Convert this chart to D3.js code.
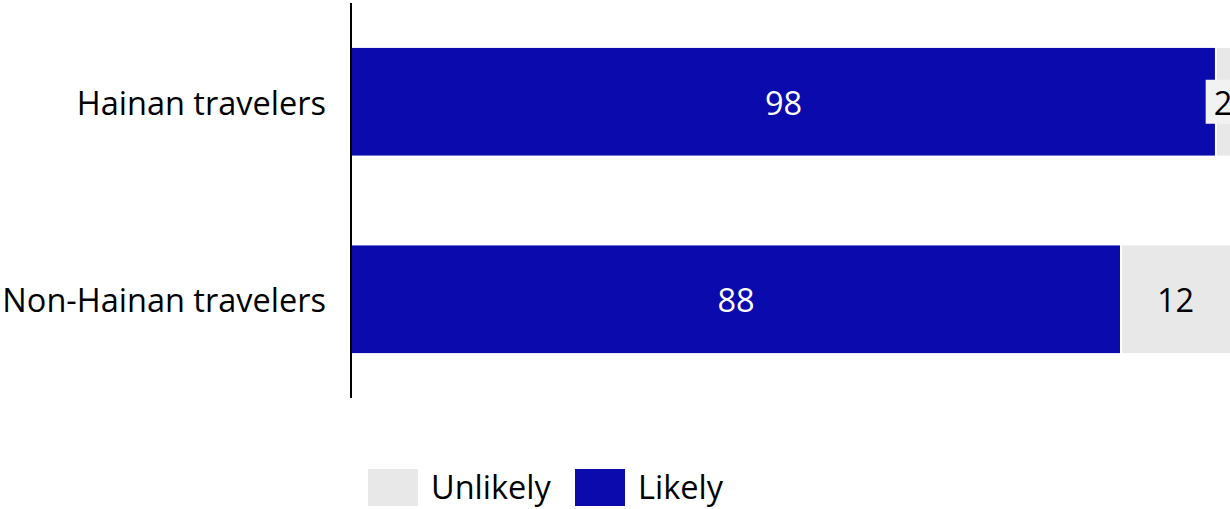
<!DOCTYPE html>
<html><head><meta charset="utf-8">
<script src="https://cdn.jsdelivr.net/npm/d3@7"></script>
<style>body{margin:0;background:#fff}svg{display:block}text{font-family:"Open Sans",sans-serif}</style>
</head><body>
<svg id="c" width="1230" height="509"></svg>
<script>
const categories = ["Hainan travelers", "Non-Hainan travelers"];
const likely = [98.4, 87.6];
const unlikely = [1.6, 12.4];
const seriesNames = ["Unlikely", "Likely"];
const colors = {Likely: "#0A0AAD", Unlikely: "#E8E8E8"};
const FONT = 32.5;

const svg = d3.select("#c");
const x = d3.scaleLinear().domain([0, 100]).range([351, 1230]);
const y = d3.scaleBand().domain(categories).range([3, 398]).paddingInner(0.455).paddingOuter(0.2275);

const rows = categories.map((c, i) => ({cat: c, Likely: likely[i], Unlikely: unlikely[i]}));
const stack = d3.stack().keys(["Likely", "Unlikely"])(rows);

const g = svg.append("g");
stack.forEach(layer => {
  g.selectAll(null).data(layer).enter().append("rect")
    .attr("x", d => x(d[0]) + (layer.key === "Unlikely" ? 1 : 0))
    .attr("y", d => y(d.data.cat))
    .attr("width", d => x(d[1]) - x(d[0]) - 1)
    .attr("height", y.bandwidth())
    .attr("fill", colors[layer.key]);
});
stack.forEach(layer => {
  layer.forEach(d => {
    const v = Math.round(d[1] - d[0]);
    const cx = (x(d[0]) + x(d[1])) / 2;
    const cy = y(d.data.cat) + y.bandwidth() / 2;
    const t = g.append("text").attr("x", cx).attr("y", cy + 13)
      .attr("text-anchor", "middle").attr("font-size", FONT)
      .attr("fill", layer.key === "Likely" ? "#fff" : "#000").text(v);
    if (layer.key === "Unlikely" && (x(d[1]) - x(d[0])) < 40) {
      const bb = t.node().getBBox();
      g.insert("rect", () => t.node()).attr("x", bb.x - 8).attr("y", cy - 22)
        .attr("width", bb.width + 16).attr("height", 44).attr("fill", "#F2F2F2");
    }
  });
});

const ax = svg.append("g").attr("transform", "translate(351,0)")
  .call(d3.axisLeft(y).tickSize(0).tickPadding(25));
ax.select(".domain").attr("stroke", "#000").attr("stroke-width", 2).attr("d", "M0,3V398");
ax.selectAll("text").attr("font-size", FONT).attr("fill", "#000").attr("dy", "0.4em")
  .style("font-family", "'Open Sans', sans-serif");

const leg = svg.append("g");
const legItems = [{k: "Unlikely", x: 368, tx: 431}, {k: "Likely", x: 575, tx: 638}];
legItems.forEach(it => {
  leg.append("rect").attr("x", it.x).attr("y", 469).attr("width", 50).attr("height", 37).attr("fill", colors[it.k]);
  leg.append("text").attr("x", it.tx).attr("y", 499).attr("font-size", FONT).attr("fill", "#000").text(it.k);
});
</script>
</body></html>
